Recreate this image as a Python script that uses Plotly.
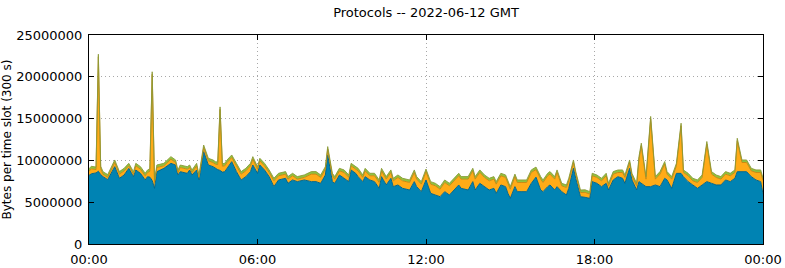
import datetime as dt
import plotly.graph_objects as go

# minutes after 2022-06-12 00:00 GMT
slot_minutes = [
    0, 5, 15, 20, 25, 30, 40, 55, 65, 75, 85, 95, 100, 110, 120, 125, 130, 135, 140, 145,
    160, 175, 185, 190, 195, 210, 215, 220, 230, 235, 245, 255, 265, 270, 275, 280, 285, 290, 295, 305,
    315, 325, 335, 345, 350, 360, 365, 375, 385, 395, 405, 420, 425, 435, 445, 460, 475, 485, 495, 505,
    510, 520, 525, 535, 545, 555, 560, 570, 575, 585, 590, 600, 610, 620, 625, 635, 645, 650, 660, 670,
    685, 695, 700, 710, 720, 730, 740, 750, 760, 770, 780, 790, 795, 810, 820, 825, 835, 845, 855, 865,
    870, 880, 890, 895, 900, 910, 915, 925, 935, 945, 955, 965, 970, 980, 985, 995, 1000, 1010, 1020, 1025,
    1035, 1040, 1050, 1060, 1070, 1075, 1085, 1095, 1105, 1110, 1120, 1130, 1140, 1145, 1155, 1160, 1170, 1175, 1180, 1190,
    1200, 1210, 1220, 1230, 1235, 1245, 1255, 1265, 1270, 1280, 1290, 1300, 1310, 1320, 1330, 1340, 1350, 1360, 1370, 1380,
    1385, 1395, 1405, 1415, 1425, 1435, 1440,
]

# values in millions of bytes per slot
blue_mb = [
    8.2, 8.4, 8.5, 8.7, 8.3, 8.05, 7.7, 9.25, 7.86, 8.25, 9.05, 8.05, 8.85, 8.45, 7.66, 8.05, 8.0, 7.6, 6.66, 8.65,
    9.05, 9.65, 9.45, 8.25, 8.65, 8.45, 8.85, 8.25, 8.85, 7.66, 11.04, 9.45, 9.25, 9.05, 8.9, 8.8, 8.6, 8.65, 9.05, 9.85,
    8.65, 7.66, 8.05, 8.65, 9.45, 8.45, 9.45, 8.85, 8.05, 6.86, 7.66, 7.86, 7.26, 7.66, 7.46, 7.66, 7.46, 7.46, 7.26, 8.25,
    10.65, 7.46, 7.26, 8.25, 7.86, 7.46, 8.85, 8.45, 8.05, 7.46, 8.05, 7.66, 7.46, 6.66, 8.05, 7.06, 7.86, 6.86, 7.06, 6.66,
    6.46, 7.46, 6.86, 6.26, 7.66, 6.06, 5.86, 5.66, 6.26, 5.86, 6.46, 7.06, 6.66, 6.46, 7.46, 6.46, 7.26, 6.86, 6.46, 6.66,
    6.06, 7.06, 6.86, 6.06, 5.46, 6.86, 6.26, 6.26, 6.26, 7.26, 8.0, 6.46, 6.26, 6.86, 7.06, 6.46, 6.86, 6.26, 5.86, 6.66,
    9.05, 7.86, 5.66, 5.58, 5.46, 7.46, 7.26, 6.86, 7.26, 6.46, 7.66, 8.05, 7.86, 7.26, 9.05, 7.66, 6.46, 7.46, 7.26, 6.86,
    6.86, 7.06, 6.86, 7.86, 7.66, 6.66, 8.45, 8.45, 8.05, 7.46, 7.06, 6.66, 7.06, 7.46, 7.26, 7.06, 7.06, 7.66, 7.46, 7.86,
    8.65, 8.65, 8.65, 8.05, 7.66, 7.46, 6.0,
]

orange_mb = [
    0.5, 0.6, 0.4, 13.7, 0.7, 0.3, 0.3, 0.5, 0.5, 0.5, 0.3, 0.3, 0.5, 0.5, 0.5, 0.5, 0.7, 12.7, 0.7, 0.5,
    0.3, 0.5, 0.3, 0.3, 0.5, 0.5, 0.3, 0.3, 0.5, 0.3, 0.5, 0.5, 0.5, 0.5, 0.6, 7.3, 0.7, 0.7, 0.7, 0.5,
    0.7, 0.7, 0.7, 0.7, 0.7, 0.5, 0.5, 0.5, 0.5, 0.7, 0.5, 0.5, 0.5, 0.5, 0.3, 0.3, 0.9, 0.9, 0.7, 0.7,
    0.7, 0.7, 0.5, 0.5, 0.7, 0.5, 0.5, 0.5, 0.7, 0.5, 0.7, 0.5, 0.7, 0.7, 0.7, 0.7, 0.7, 0.7, 0.9, 0.9,
    0.9, 1.1, 0.9, 0.9, 1.0, 1.1, 1.1, 0.9, 1.1, 1.1, 1.1, 1.1, 1.1, 1.3, 1.3, 1.3, 1.3, 1.1, 1.1, 1.1,
    1.1, 1.1, 1.1, 1.1, 1.1, 1.2, 1.1, 1.1, 1.1, 1.3, 0.9, 1.3, 1.1, 1.3, 1.3, 1.3, 1.7, 0.7, 0.9, 0.9,
    0.7, 0.5, 0.5, 0.6, 0.5, 0.7, 0.7, 0.7, 0.9, 0.5, 0.7, 0.5, 0.7, 0.7, 0.7, 0.5, 0.5, 2.7, 4.5, 0.9,
    8.1, 0.7, 1.5, 1.7, 0.7, 1.1, 0.9, 5.7, 0.5, 0.7, 0.5, 0.7, 0.9, 4.5, 1.1, 0.9, 0.7, 0.7, 0.7, 0.7,
    3.7, 1.1, 1.1, 0.7, 0.9, 1.1, 1.6,
]

green_mb = [
    0.3, 0.3, 0.3, 0.3, 0.3, 0.3, 0.3, 0.3, 0.3, 0.3, 0.3, 0.3, 0.3, 0.3, 0.3, 0.3, 0.3, 0.3, 0.3, 0.3,
    0.3, 0.3, 0.3, 0.3, 0.3, 0.3, 0.3, 0.3, 0.3, 0.3, 0.3, 0.3, 0.3, 0.3, 0.3, 0.3, 0.3, 0.3, 0.3, 0.3,
    0.3, 0.3, 0.3, 0.3, 0.3, 0.3, 0.3, 0.3, 0.3, 0.3, 0.3, 0.3, 0.3, 0.3, 0.3, 0.3, 0.3, 0.3, 0.3, 0.3,
    0.3, 0.3, 0.3, 0.3, 0.3, 0.3, 0.3, 0.3, 0.3, 0.3, 0.3, 0.3, 0.3, 0.3, 0.3, 0.3, 0.3, 0.3, 0.3, 0.3,
    0.3, 0.3, 0.3, 0.3, 0.3, 0.3, 0.3, 0.3, 0.3, 0.3, 0.3, 0.3, 0.3, 0.3, 0.3, 0.3, 0.3, 0.3, 0.3, 0.3,
    0.3, 0.3, 0.3, 0.3, 0.3, 0.3, 0.3, 0.3, 0.3, 0.3, 0.3, 0.3, 0.3, 0.3, 0.3, 0.3, 0.3, 0.3, 0.3, 0.3,
    0.3, 0.3, 0.3, 0.3, 0.3, 0.3, 0.3, 0.3, 0.3, 0.3, 0.3, 0.3, 0.3, 0.3, 0.3, 0.3, 0.3, 0.3, 0.3, 0.3,
    0.3, 0.3, 0.3, 0.3, 0.3, 0.3, 0.3, 0.3, 0.3, 0.3, 0.3, 0.3, 0.3, 0.3, 0.3, 0.3, 0.3, 0.3, 0.3, 0.3,
    0.3, 0.3, 0.3, 0.3, 0.3, 0.3, 0.3,
]

y_ticks = [0, 5000000, 10000000, 15000000, 20000000, 25000000]
x_tick_labels = ["00:00", "06:00", "12:00", "18:00", "00:00"]

start = dt.datetime(2022, 6, 12, 0, 0)
times = [start + dt.timedelta(minutes=m) for m in slot_minutes]
x_ticks = [start + dt.timedelta(hours=6 * i) for i in range(5)]

series = [
    ("blue", blue_mb, "#0083b3", "#00668c", 1),
    ("orange", orange_mb, "#ffab17", "#c98a12", 1),
    ("green", green_mb, "#8dc440", "#8c9a38", 0.9),
]

fig = go.Figure()
for name, vals, fillc, linec, lw in series:
    fig.add_trace(go.Scatter(
        x=times, y=[v * 1e6 for v in vals], name=name, mode="lines",
        stackgroup="s", fillcolor=fillc, line=dict(color=linec, width=lw),
        hoverinfo="skip",
    ))

font = "DejaVu Sans, sans-serif"
fig.update_layout(
    width=785, height=268,
    margin=dict(l=89, r=22, t=35, b=24),
    paper_bgcolor="white", plot_bgcolor="white",
    showlegend=False,
    font=dict(family=font, size=13, color="black"),
    title=dict(text="Protocols -- 2022-06-12 GMT", x=0.5427, xanchor="center",
               y=0.955, yanchor="middle", font=dict(size=13, family=font)),
)
fig.update_xaxes(
    type="date", range=[x_ticks[0], x_ticks[-1]],
    tickmode="array", tickvals=x_ticks, ticktext=x_tick_labels,
    showline=True, linecolor="black", linewidth=1, mirror="ticks",
    ticks="inside", ticklen=5, tickcolor="black",
    showgrid=True, gridcolor="#a8a8a8", griddash="1px,3px", gridwidth=1,
    zeroline=False, tickfont=dict(size=13), automargin=False,
    ticklabelstandoff=3,
)
fig.update_yaxes(
    range=[0, 25000000], tickmode="array", tickvals=y_ticks,
    ticktext=[str(v) for v in y_ticks],
    showline=True, linecolor="black", linewidth=1, mirror="ticks",
    ticks="inside", ticklen=5, tickcolor="black",
    showgrid=True, gridcolor="#a8a8a8", griddash="1px,3px", gridwidth=1,
    zeroline=False, tickfont=dict(size=13), automargin=False,
    ticklabelstandoff=3,
    title=dict(text="Bytes per time slot (300 s)", font=dict(size=12), standoff=3),
)
fig.write_html("out.html")
